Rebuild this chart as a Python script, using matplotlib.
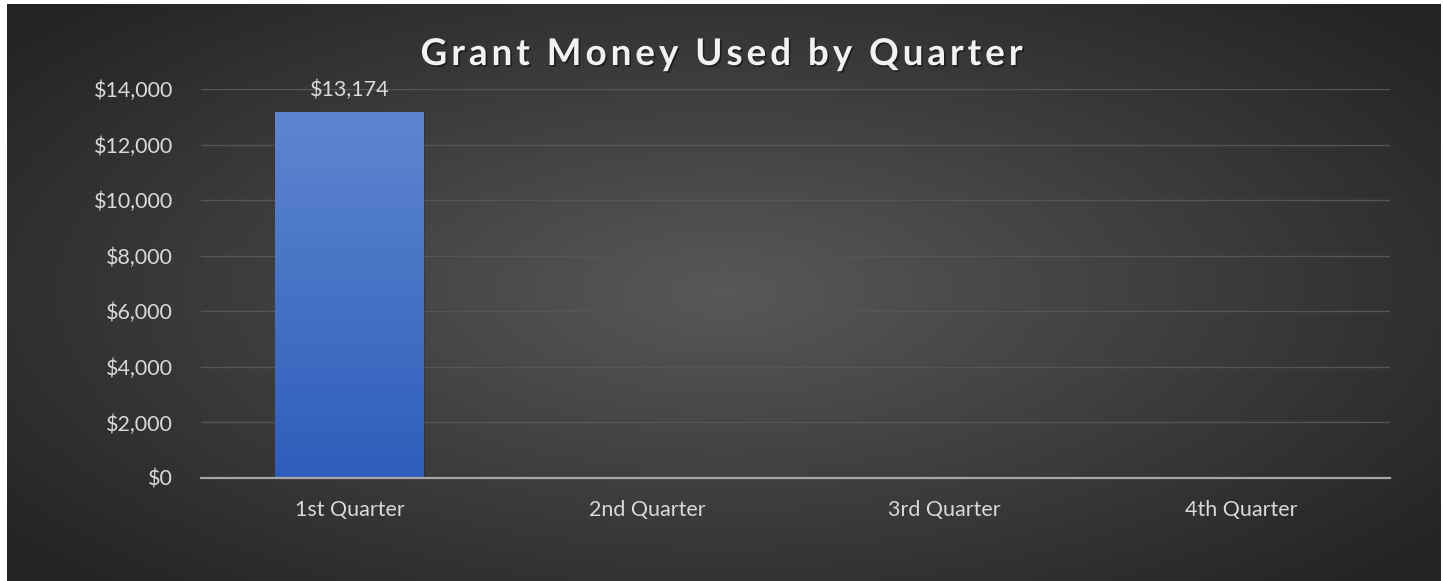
import numpy as np
import matplotlib.pyplot as plt
from matplotlib.ticker import FuncFormatter
import matplotlib.patheffects as pe

# chart data
quarters = ['1st Quarter', '2nd Quarter', '3rd Quarter', '4th Quarter']
grant_used = [13174, np.nan, np.nan, np.nan]
y_ticks = [0, 2000, 4000, 6000, 8000, 10000, 12000, 14000]
title = 'Grant Money Used by Quarter'

W, H = 1443, 581
fig = plt.figure(figsize=(W / 100, H / 100), dpi=100)
fig.patch.set_facecolor('white')

# dark radial gradient background (Excel style)
bg = fig.add_axes([7 / W, 0, (W - 9) / W, (H - 4) / H])
bg.set_axis_off()
gx, gy = np.meshgrid(np.linspace(-1, 1, 400), np.linspace(-1, 1, 200))
r = np.sqrt((gx / 1.0) ** 2 + (gy / 1.1) ** 2)
shade = 0.345 - 0.2 * np.clip(r, 0, 1.25) / 1.25
img = np.dstack([shade, shade, shade])
bg.imshow(img, aspect='auto', extent=[0, 1, 0, 1], interpolation='bicubic')
bg.set_xlim(0, 1)
bg.set_ylim(0, 1)

ax = fig.add_axes([201 / W, 1 - 478 / H, (1390 - 201) / W, (478 - 89) / H])
ax.set_facecolor('none')

FS = 15.5
x = np.arange(len(quarters))
bars = ax.bar(x, np.nan_to_num(grant_used), width=0.5, color='#4472C4', zorder=3)

# vertical gradient fill on bars
for b, v in zip(bars, grant_used):
    if np.isnan(v) or v == 0:
        continue
    grad = np.linspace(0, 1, 256).reshape(-1, 1)
    top = np.array([0x5E, 0x86, 0xD0]) / 255
    bot = np.array([0x2E, 0x5E, 0xBB]) / 255
    cols = (bot + (top - bot) * grad).reshape(256, 1, 3)
    bx, bw = b.get_x(), b.get_width()
    im = ax.imshow(cols, aspect='auto', origin='lower',
                   extent=[bx, bx + bw, 0, v], zorder=4)
    im.set_clip_path(b)
    b.set_path_effects([pe.SimplePatchShadow(offset=(1, -1), shadow_rgbFace='black', alpha=0.2)])
    ax.text(bx + bw / 2, v + 420, '${:,.0f}'.format(v), ha='center', va='bottom',
            color='#d9d9d9', fontsize=FS, family='Lato', zorder=5)

ax.set_xlim(-0.5, len(quarters) - 0.5)
ax.set_ylim(0, 14000)
ax.set_yticks(y_ticks)
ax.yaxis.set_major_formatter(FuncFormatter(lambda v, p: '${:,.0f}'.format(v)))
ax.set_xticks(x)
ax.set_xticklabels(quarters)
ax.tick_params(axis='both', length=0, colors='#d9d9d9', labelsize=FS)
ax.tick_params(axis='y', pad=20)
ax.tick_params(axis='x', pad=16)
for lab in ax.get_xticklabels() + ax.get_yticklabels():
    lab.set_family('Lato')
ax.grid(axis='y', color='#555555', linewidth=1.0, zorder=0)
ax.set_axisbelow(True)
for s in ['top', 'right', 'left']:
    ax.spines[s].set_visible(False)
ax.spines['bottom'].set_color('#a6a6a6')
ax.spines['bottom'].set_linewidth(1.6)
ax.spines['bottom'].set_zorder(6)

# letter-spaced title, placed char by char
renderer = fig.canvas.get_renderer()
tkw = dict(color='#f2f2f2', fontsize=26.5, fontweight='bold', family='Lato', va='baseline',
           path_effects=[pe.withSimplePatchShadow(offset=(1.2, -1.2), shadow_rgbFace='black', alpha=0.45)])
spacing = 4.0
def text_width(s):
    t = fig.text(0, 0, s, **tkw)
    w = t.get_window_extent(renderer).width
    t.remove()
    return w
full_w = text_width(title) + spacing * (len(title) - 1)
x0 = (418 + 1025) / 2 - full_w / 2
base_y = H - 65
for i, ch in enumerate(title):
    if ch == ' ':
        continue
    px = x0 + (text_width(title[:i]) if i else 0) + spacing * i
    fig.text(px / W, base_y / H, ch, ha='left', **tkw)

fig.savefig('out.png', dpi=100, facecolor=fig.get_facecolor())
